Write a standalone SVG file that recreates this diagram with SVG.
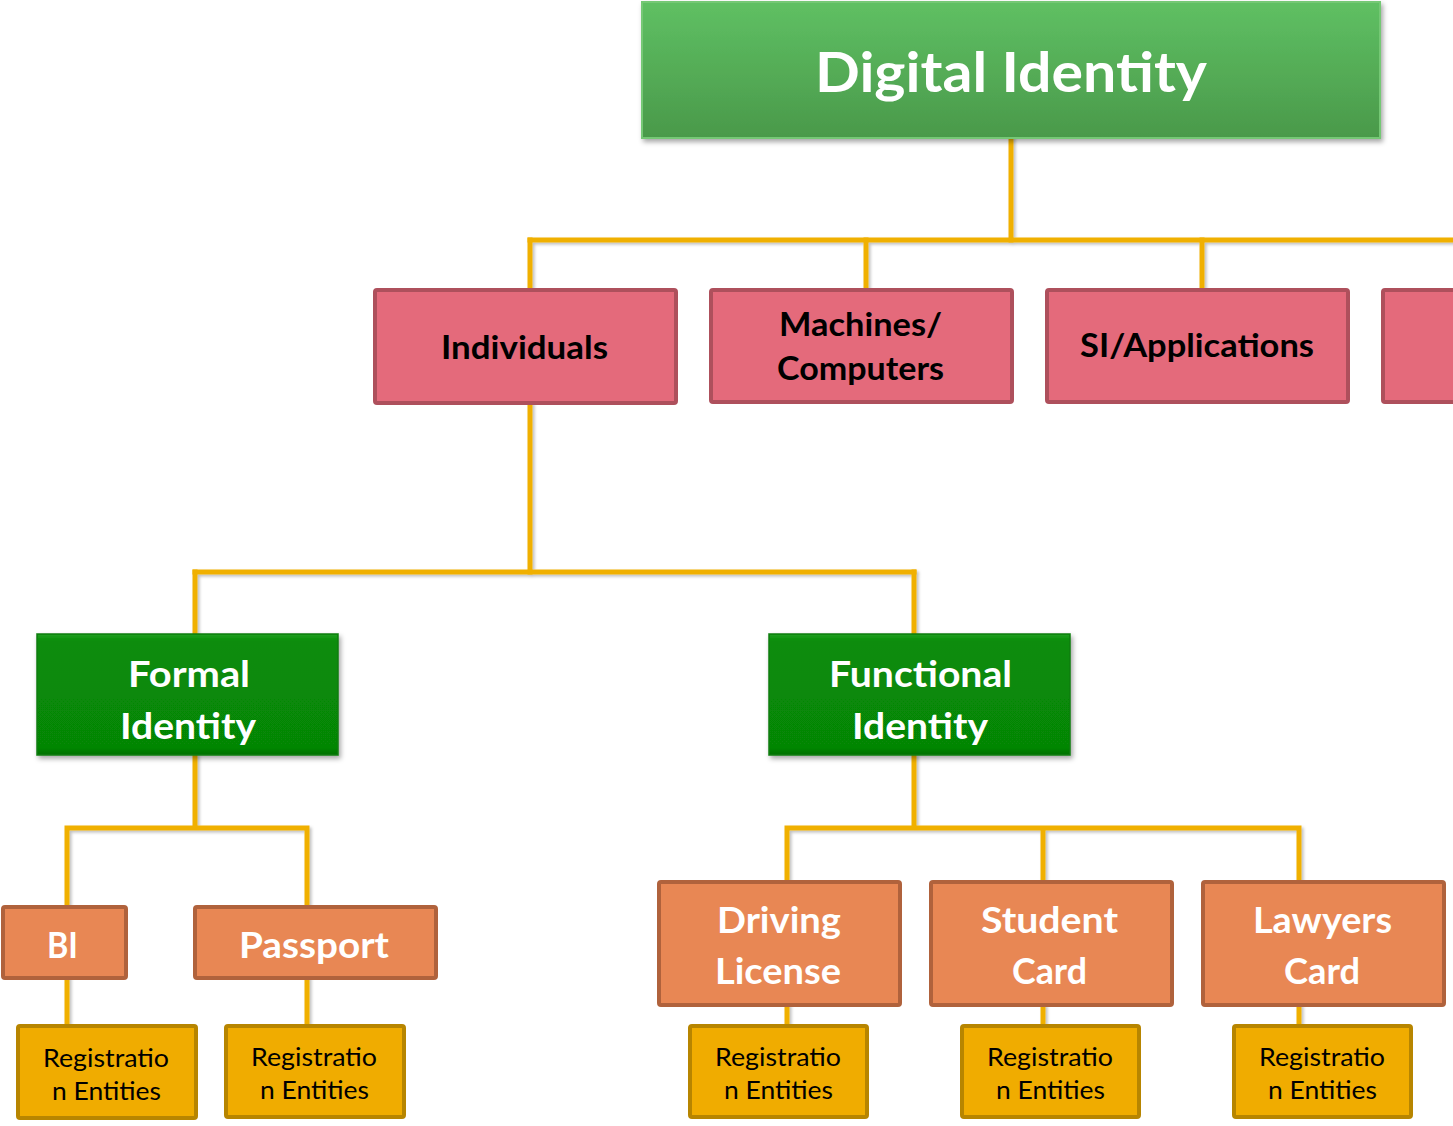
<svg xmlns="http://www.w3.org/2000/svg" width="1453" height="1126" viewBox="0 0 1453 1126">
<defs>
<linearGradient id="gTop" x1="0" y1="0" x2="0" y2="1">
<stop offset="0" stop-color="#5fc063"/>
<stop offset="1" stop-color="#4a994a"/>
</linearGradient>
<linearGradient id="gGreen" x1="0" y1="0" x2="0" y2="1">
<stop offset="0" stop-color="#1fa01f"/>
<stop offset="0.06" stop-color="#088c08"/>
<stop offset="0.94" stop-color="#068606"/>
<stop offset="1" stop-color="#057005"/>
</linearGradient>
<filter id="sh" x="-5%" y="-5%" width="115%" height="120%">
<feDropShadow dx="2" dy="3" stdDeviation="2.5" flood-color="#000" flood-opacity="0.35"/>
</filter>
<filter id="lsh" x="-50%" y="-50%" width="200%" height="200%">
<feDropShadow dx="2" dy="2" stdDeviation="1.5" flood-color="#000" flood-opacity="0.25"/>
</filter>
</defs>
<style>
.conn{fill:none;stroke:#f0b000;stroke-width:5;stroke-linecap:square;stroke-linejoin:miter}
.pink{fill:#e46a7b;stroke:#ae505c;stroke-width:4}
.orange{fill:#e88754;stroke:#b0623c;stroke-width:4}
.reg{fill:#f0ac00;stroke:#b78500;stroke-width:4}
.green{fill:url(#gGreen);stroke:#0b7d0b;stroke-width:1.5}
.t{font-family:Lato,"Open Sans","Liberation Sans",sans-serif;font-weight:bold}
.tw{fill:#fff}
.tb{fill:#000}
.tr{font-family:Lato,"Open Sans","Liberation Sans",sans-serif;font-weight:normal;fill:#000;font-size:25px}
</style>
<g id="connectors" filter="url(#lsh)">
<path class="conn" d="M1011,138 V240"/>
<path class="conn" d="M530,240 H1455"/>
<path class="conn" d="M530,240 V288 M866,240 V288 M1202,240 V288"/>
<path class="conn" d="M530,404 V572"/>
<path class="conn" d="M195,572 H914"/>
<path class="conn" d="M195,572 V633 M914,572 V633"/>
<path class="conn" d="M195,756 V828 M67,828 H307 M67,828 V906 M307,828 V906"/>
<path class="conn" d="M67,978 V1025 M307,978 V1025"/>
<path class="conn" d="M914,756 V828 M787,828 H1299 M787,828 V881 M1043,828 V881 M1299,828 V881"/>
<path class="conn" d="M787,1006 V1025 M1043,1006 V1025 M1299,1006 V1025"/>
</g>
<g id="digital-identity">
<rect x="642" y="2" width="738" height="136" fill="url(#gTop)" stroke="#74c874" stroke-width="2" filter="url(#sh)"/>
<text class="t tw" x="815" y="92" font-size="56" textLength="392" lengthAdjust="spacingAndGlyphs">Digital Identity</text>
</g>
<g id="individuals">
<rect class="pink" x="375" y="290" width="301" height="113" rx="2"/>
<text class="t tb" x="441" y="359" font-size="32" textLength="167" lengthAdjust="spacingAndGlyphs">Individuals</text>
</g>
<g id="machines">
<rect class="pink" x="711" y="290" width="301" height="112" rx="2"/>
<text class="t tb" x="779" y="336" font-size="32" textLength="163" lengthAdjust="spacingAndGlyphs">Machines/</text>
<text class="t tb" x="777" y="380" font-size="32" textLength="167" lengthAdjust="spacingAndGlyphs">Computers</text>
</g>
<g id="si-applications">
<rect class="pink" x="1047" y="290" width="301" height="112" rx="2"/>
<text class="t tb" x="1080" y="357" font-size="32" textLength="234" lengthAdjust="spacingAndGlyphs">SI/Applications</text>
</g>
<g id="fourth">
<rect class="pink" x="1383" y="290" width="120" height="112" rx="2"/>
</g>
<g id="formal-identity">
<rect class="green" x="37" y="634" width="301" height="121" filter="url(#sh)"/>
<text class="t tw" x="128" y="687" font-size="37" textLength="122" lengthAdjust="spacingAndGlyphs">Formal</text>
<text class="t tw" x="120" y="739" font-size="37" textLength="136" lengthAdjust="spacingAndGlyphs">Identity</text>
</g>
<g id="functional-identity">
<rect class="green" x="769" y="634" width="301" height="121" filter="url(#sh)"/>
<text class="t tw" x="829" y="687" font-size="37" textLength="183" lengthAdjust="spacingAndGlyphs">Functional</text>
<text class="t tw" x="852" y="739" font-size="37" textLength="136" lengthAdjust="spacingAndGlyphs">Identity</text>
</g>
<g id="bi">
<rect class="orange" x="3" y="907" width="123" height="71" rx="2"/>
<text class="t tw" x="47" y="958" font-size="36" textLength="31" lengthAdjust="spacingAndGlyphs">BI</text>
</g>
<g id="passport">
<rect class="orange" x="195" y="907" width="241" height="71" rx="2"/>
<text class="t tw" x="239" y="958" font-size="36" textLength="150" lengthAdjust="spacingAndGlyphs">Passport</text>
</g>
<g id="driving-license">
<rect class="orange" x="659" y="882" width="241" height="123" rx="2"/>
<text class="t tw" x="717" y="933" font-size="36" textLength="124" lengthAdjust="spacingAndGlyphs">Driving</text>
<text class="t tw" x="715" y="984" font-size="36" textLength="126" lengthAdjust="spacingAndGlyphs">License</text>
</g>
<g id="student-card">
<rect class="orange" x="931" y="882" width="241" height="123" rx="2"/>
<text class="t tw" x="981" y="933" font-size="36" textLength="137" lengthAdjust="spacingAndGlyphs">Student</text>
<text class="t tw" x="1012" y="984" font-size="36" textLength="75" lengthAdjust="spacingAndGlyphs">Card</text>
</g>
<g id="lawyers-card">
<rect class="orange" x="1203" y="882" width="241" height="123" rx="2"/>
<text class="t tw" x="1253" y="933" font-size="36" textLength="139" lengthAdjust="spacingAndGlyphs">Lawyers</text>
<text class="t tw" x="1284" y="984" font-size="36" textLength="76" lengthAdjust="spacingAndGlyphs">Card</text>
</g>
<g id="reg-bi">
<rect class="reg" x="18" y="1026" width="178" height="92" rx="2"/>
<text class="tr" x="43" y="1067" textLength="126" lengthAdjust="spacingAndGlyphs">Registratio</text>
<text class="tr" x="52" y="1100" textLength="109" lengthAdjust="spacingAndGlyphs">n Entities</text>
</g>
<g id="reg-passport">
<rect class="reg" x="226" y="1026" width="178" height="91" rx="2"/>
<text class="tr" x="251" y="1066" textLength="126" lengthAdjust="spacingAndGlyphs">Registratio</text>
<text class="tr" x="260" y="1099" textLength="109" lengthAdjust="spacingAndGlyphs">n Entities</text>
</g>
<g id="reg-driving">
<rect class="reg" x="690" y="1026" width="177" height="91" rx="2"/>
<text class="tr" x="715" y="1066" textLength="126" lengthAdjust="spacingAndGlyphs">Registratio</text>
<text class="tr" x="724" y="1099" textLength="109" lengthAdjust="spacingAndGlyphs">n Entities</text>
</g>
<g id="reg-student">
<rect class="reg" x="962" y="1026" width="177" height="91" rx="2"/>
<text class="tr" x="987" y="1066" textLength="126" lengthAdjust="spacingAndGlyphs">Registratio</text>
<text class="tr" x="996" y="1099" textLength="109" lengthAdjust="spacingAndGlyphs">n Entities</text>
</g>
<g id="reg-lawyers">
<rect class="reg" x="1234" y="1026" width="177" height="91" rx="2"/>
<text class="tr" x="1259" y="1066" textLength="126" lengthAdjust="spacingAndGlyphs">Registratio</text>
<text class="tr" x="1268" y="1099" textLength="109" lengthAdjust="spacingAndGlyphs">n Entities</text>
</g>
</svg>
